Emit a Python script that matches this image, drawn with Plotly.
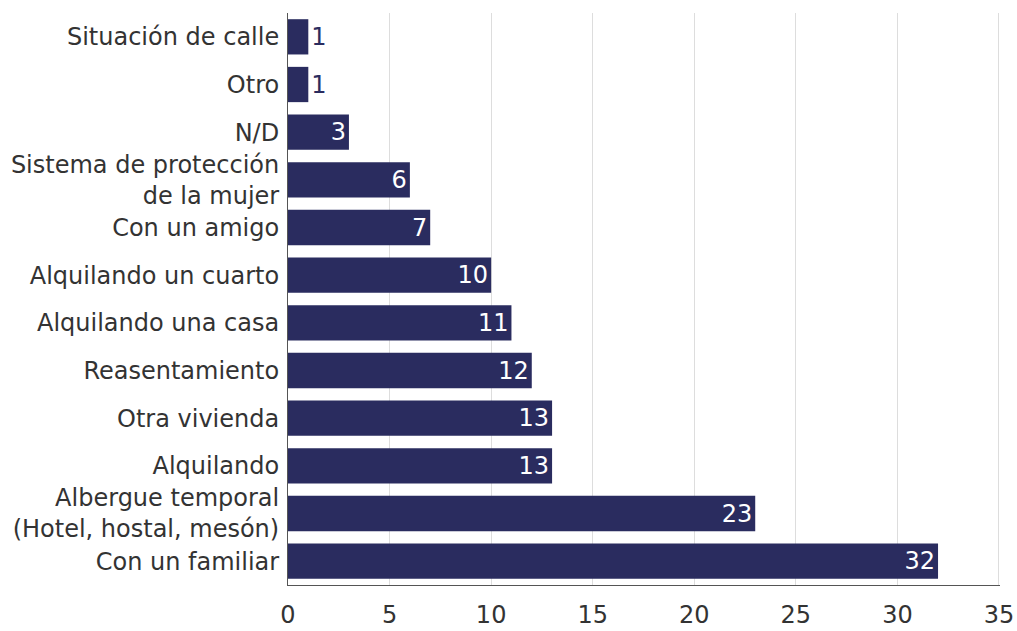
import plotly.graph_objects as go

# categorías (de arriba hacia abajo) y valores
categorias = [
    "Situación de calle",
    "Otro",
    "N/D",
    "Sistema de protección<br>de la mujer",
    "Con un amigo",
    "Alquilando un cuarto",
    "Alquilando una casa",
    "Reasentamiento",
    "Otra vivienda",
    "Alquilando",
    "Albergue temporal<br>(Hotel, hostal, mesón)",
    "Con un familiar",
]
valores = [1, 1, 3, 6, 7, 10, 11, 12, 13, 13, 23, 32]
ticks_x = [0, 5, 10, 15, 20, 25, 30, 35]

color_barra = "#2a2c5f"
color_texto = "#333333"
fuente = "DejaVu Sans, sans-serif"
tam = 24

# las barras muy cortas llevan la etiqueta fuera
posiciones = ["outside" if v < 2 else "inside" for v in valores]

fig = go.Figure()
fig.add_trace(go.Bar(
    x=valores,
    y=categorias,
    orientation="h",
    marker=dict(color=color_barra, line=dict(width=0)),
    text=[str(v) for v in valores],
    textposition=posiciones,
    textangle=0,
    insidetextanchor="end",
    outsidetextfont=dict(family=fuente, size=tam, color=color_barra),
    insidetextfont=dict(family=fuente, size=tam, color="white"),
    cliponaxis=False,
    showlegend=False,
))

fig.update_layout(
    width=1017,
    height=631,
    margin=dict(l=288, r=17, t=13, b=46),
    plot_bgcolor="white",
    paper_bgcolor="white",
    bargap=0.26,
    font=dict(family=fuente, size=tam, color=color_texto),
    uniformtext=dict(minsize=tam, mode="show"),
)

fig.update_xaxes(
    range=[0, 35.05],
    tickvals=ticks_x,
    showgrid=True,
    gridcolor="#dddddd",
    gridwidth=1,
    zeroline=False,
    showline=True,
    linecolor="#555555",
    linewidth=1,
    ticks="",
    ticklabelstandoff=8,
    ticklabeloverflow="allow",
    automargin=False,
    tickfont=dict(family=fuente, size=tam, color=color_texto),
)

fig.update_yaxes(
    autorange="reversed",
    showline=True,
    linecolor="#555555",
    linewidth=1,
    showgrid=False,
    ticks="",
    ticklabelstandoff=3,
    automargin=False,
    tickfont=dict(family=fuente, size=tam, color=color_texto),
)

# quitar el margen por defecto del body para que la figura empiece en (0, 0)
fig.write_html(
    "out.html",
    config={"displayModeBar": False},
    post_script="document.body.style.margin='0';",
)
